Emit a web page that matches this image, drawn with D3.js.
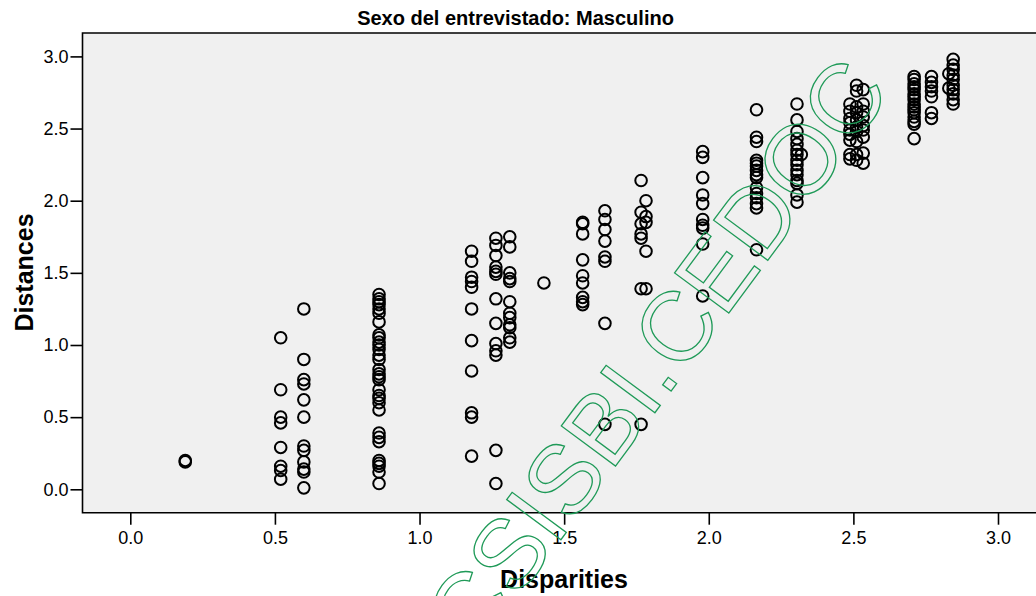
<!DOCTYPE html>
<html>
<head>
<meta charset="utf-8">
<script src="https://cdn.jsdelivr.net/npm/d3@7"></script>
<style>
  html, body { margin: 0; padding: 0; background: #ffffff; }
  svg { display: block; font-family: "Liberation Sans", Arial, sans-serif; }
</style>
</head>
<body>
<svg id="chart" width="1036" height="596"></svg>
<script>
// ---- data ----
const chartTitle = "Sexo del entrevistado: Masculino";
const xLabel = "Disparities";
const yLabel = "Distances";
const xTicks = [0.0, 0.5, 1.0, 1.5, 2.0, 2.5, 3.0];
const yTicks = [0.0, 0.5, 1.0, 1.5, 2.0, 2.5, 3.0];

// disparity value of each vertical column of points
const disparities = [
  0.19, 0.52, 0.60, 0.86, 1.18, 1.264, 1.312, 1.43, 1.564, 1.641,
  1.766, 1.783, 1.979, 2.165, 2.305, 2.32, 2.488, 2.511, 2.534,
  2.71, 2.77, 2.83, 2.845
];
// distances observed in each column (same order as disparities)
const distances = [
  [0.20, 0.19],
  [1.05, 0.69, 0.50, 0.46, 0.29, 0.16, 0.13, 0.07],
  [1.25, 0.90, 0.76, 0.73, 0.62, 0.50, 0.30, 0.27, 0.19, 0.14, 0.12, 0.01],
  [1.35, 1.32, 1.30, 1.28, 1.25, 1.22, 1.16, 1.07, 1.05, 1.02, 1.00, 0.97, 0.93, 0.90,
   0.83, 0.80, 0.78, 0.76, 0.69, 0.65, 0.63, 0.60, 0.55, 0.39, 0.36, 0.33, 0.20, 0.18,
   0.16, 0.12, 0.04],
  [1.65, 1.58, 1.47, 1.44, 1.40, 1.25, 1.03, 0.82, 0.53, 0.50, 0.23],
  [1.74, 1.69, 1.62, 1.54, 1.51, 1.49, 1.32, 1.15, 1.01, 0.96, 0.93, 0.27, 0.04],
  [1.75, 1.68, 1.50, 1.46, 1.44, 1.30, 1.22, 1.19, 1.14, 1.12, 1.05, 1.02],
  [1.43],
  [1.85, 1.84, 1.77, 1.59, 1.48, 1.43, 1.33, 1.30, 1.28],
  [1.93, 1.87, 1.80, 1.72, 1.61, 1.58, 1.15, 0.45],
  [2.14, 1.92, 1.84, 1.77, 1.74, 1.39, 0.45],
  [2.00, 1.89, 1.85, 1.65, 1.39],
  [2.34, 2.30, 2.16, 2.04, 1.98, 1.87, 1.83, 1.81, 1.70, 1.34],
  [2.63, 2.44, 2.41, 2.28, 2.26, 2.24, 2.21, 2.18, 2.16, 2.09, 2.05, 2.02, 1.98, 1.95, 1.66],
  [2.67, 2.56, 2.48, 2.43, 2.39, 2.35, 2.32, 2.28, 2.25, 2.21, 2.18, 2.14, 2.12, 2.04, 1.99],
  [2.32],
  [2.67, 2.62, 2.57, 2.54, 2.49, 2.46, 2.42, 2.32, 2.29],
  [2.80, 2.76, 2.65, 2.61, 2.56, 2.51, 2.48, 2.41, 2.32, 2.28],
  [2.77, 2.67, 2.62, 2.58, 2.52, 2.49, 2.44, 2.33, 2.26],
  [2.86, 2.84, 2.81, 2.79, 2.77, 2.74, 2.72, 2.70, 2.67, 2.65, 2.63, 2.61, 2.58, 2.55, 2.53, 2.43],
  [2.86, 2.82, 2.79, 2.76, 2.72, 2.61, 2.57],
  [2.88, 2.78],
  [2.98, 2.94, 2.91, 2.87, 2.84, 2.80, 2.77, 2.74, 2.70, 2.67]
];
const watermarkText = "SISBI.CEDOC";
const watermarkLead = "C";

// ---- layout ----
const W = 1036, H = 596;
const frame = { left: 82.5, top: 33, right: 1040, bottom: 512.7 };

const x = d3.scaleLinear().domain([0, 3]).range([130.3, 998]);
const y = d3.scaleLinear().domain([0, 3]).range([489.3, 56.4]);

const svg = d3.select("#chart");

// plot background
svg.append("rect")
  .attr("x", frame.left).attr("y", frame.top)
  .attr("width", frame.right - frame.left)
  .attr("height", frame.bottom - frame.top)
  .attr("fill", "#f0f0f0");

// points
const points = [];
disparities.forEach((dx, i) => distances[i].forEach(dy => points.push([dx, dy])));

svg.append("g")
  .selectAll("circle")
  .data(points)
  .join("circle")
  .attr("cx", d => x(d[0]))
  .attr("cy", d => y(d[1]))
  .attr("r", 5.8)
  .attr("fill", "none")
  .attr("stroke", "#000")
  .attr("stroke-width", 2);

// frame lines (left, top, bottom)
svg.append("path")
  .attr("d", `M${frame.right},${frame.top}H${frame.left}V${frame.bottom}H${frame.right}`)
  .attr("fill", "none")
  .attr("stroke", "#000")
  .attr("stroke-width", 1.6);

// axes
const xAxis = d3.axisBottom(x).tickValues(xTicks).tickFormat(d3.format(".1f"))
  .tickSize(12).tickSizeOuter(0).tickPadding(7);
const gx = svg.append("g").attr("transform", `translate(0,${frame.bottom})`).call(xAxis);
gx.select(".domain").remove();
gx.selectAll("line").attr("stroke", "#000").attr("stroke-width", 1.6);
gx.selectAll("text").attr("font-size", 18).attr("fill", "#000")
  .attr("font-family", "Liberation Sans, Arial, sans-serif");

const yAxis = d3.axisLeft(y).tickValues(yTicks).tickFormat(d3.format(".1f"))
  .tickSize(12).tickSizeOuter(0).tickPadding(2);
const gy = svg.append("g").attr("transform", `translate(${frame.left},0)`).call(yAxis);
gy.select(".domain").remove();
gy.selectAll("line").attr("stroke", "#000").attr("stroke-width", 1.6);
gy.selectAll("text").attr("font-size", 18).attr("fill", "#000")
  .attr("font-family", "Liberation Sans, Arial, sans-serif");

// title
svg.append("text")
  .attr("x", 515.5).attr("y", 25)
  .attr("text-anchor", "middle")
  .attr("font-size", 20).attr("font-weight", "bold")
  .text(chartTitle);

// axis titles
svg.append("text")
  .attr("x", 564).attr("y", 588)
  .attr("text-anchor", "middle")
  .attr("font-size", 25).attr("font-weight", "bold")
  .text(xLabel);

svg.append("text")
  .attr("transform", "translate(32.5,272.5) rotate(-90)")
  .attr("text-anchor", "middle")
  .attr("font-size", 25).attr("font-weight", "bold")
  .text(yLabel);

// watermark (outlined green text)
const wm = svg.append("g").attr("transform", "translate(516.7,599.6) rotate(-53.5)");
wm.append("text")
  .attr("x", 0).attr("y", 0)
  .attr("font-size", 98)
  .attr("fill", "none").attr("stroke", "#1f9a58").attr("stroke-width", 1.3)
  .text(watermarkText);
wm.append("text")
  .attr("x", 0).attr("y", 0)
  .attr("text-anchor", "end")
  .attr("font-size", 98)
  .attr("fill", "none").attr("stroke", "#1f9a58").attr("stroke-width", 1.3)
  .text(watermarkLead);
</script>
</body>
</html>
